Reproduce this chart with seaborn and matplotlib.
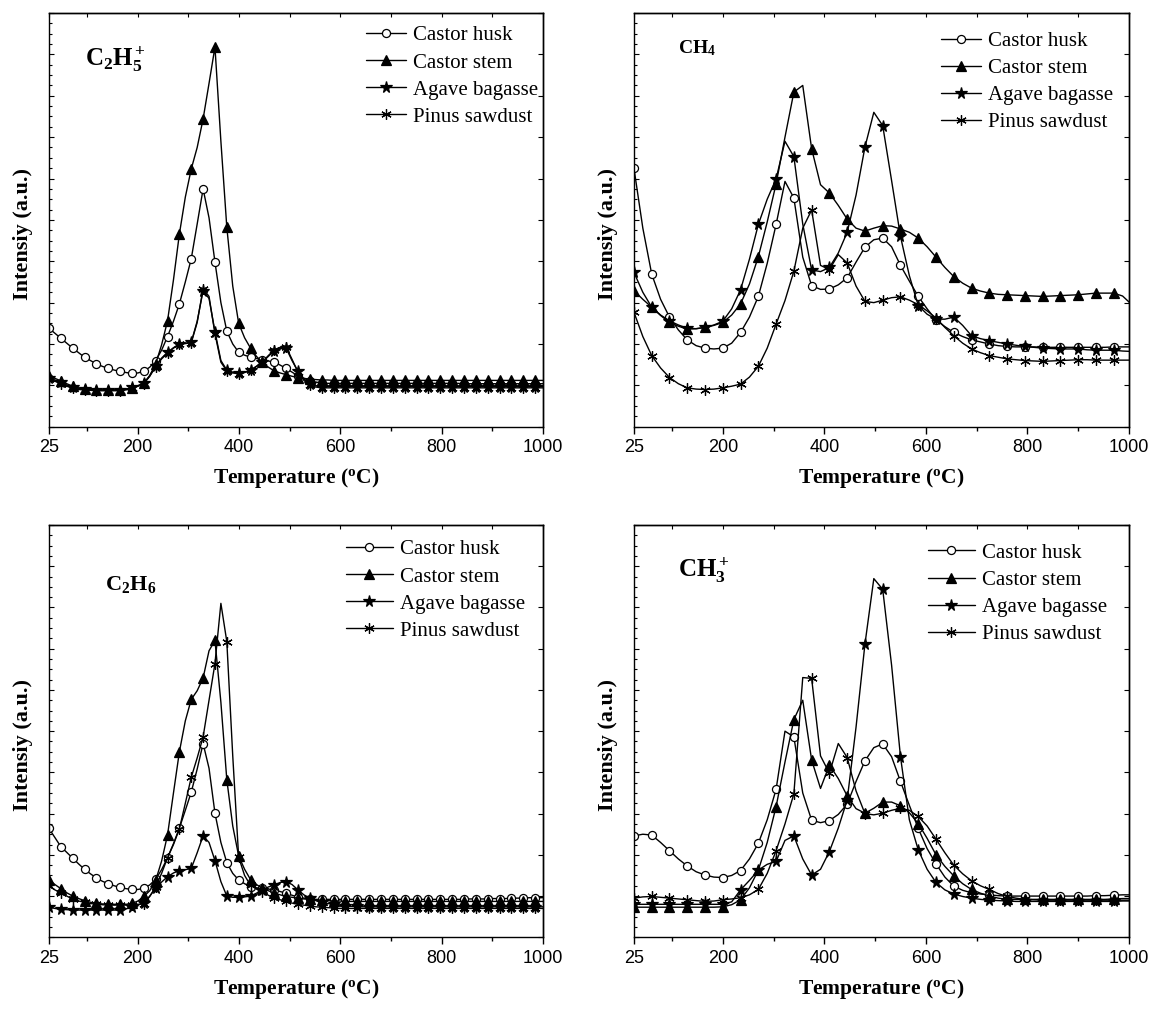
import numpy as np
import matplotlib
matplotlib.use("Agg")
import matplotlib.pyplot as plt
from matplotlib.lines import Line2D
import seaborn as sns

# sampling temperatures (half of the marker spacing in each plot)
temp_fine = np.round(25 + 11.7 * np.arange(85), 1)     # C2H5+ and C2H6 plots
temp_coarse = 25 + 17.5 * np.arange(57)                 # CH4 and CH3+ plots

samples = ["Castor husk", "Castor stem", "Agave bagasse", "Pinus sawdust"]
x_major = [25, 200, 400, 600, 800, 1000]
x_minor = [100, 300, 500, 700, 900]

# intensities (a.u.)
c2h5_husk = [23.8, 22.6, 21.4, 20.2, 19.0, 17.9, 16.8, 16.0, 15.2, 14.6,
             14.1, 13.7, 13.4, 13.1, 12.9, 13.0, 13.4, 14.4, 16.0, 18.5,
             21.8, 25.5, 29.7, 35.0, 40.6, 49.0, 57.5, 50.5, 39.8, 30.0,
             23.1, 20.0, 18.0, 17.3, 16.8, 16.5, 16.2, 15.9, 15.6, 14.9,
             14.1, 13.2, 12.3, 11.7, 11.1, 10.8, 10.6, 10.5, 10.5, 10.5,
             10.5, 10.5, 10.5, 10.5, 10.5, 10.5, 10.5, 10.5, 10.5, 10.5,
             10.5, 10.5, 10.5, 10.5, 10.5, 10.5, 10.5, 10.5, 10.5, 10.5,
             10.4, 10.4, 10.4, 10.4, 10.4, 10.4, 10.4, 10.4, 10.4, 10.4,
             10.4, 10.4, 10.4, 10.4, 10.4]
c2h5_stem = [12.3, 11.7, 11.1, 10.4, 9.8, 9.4, 9.1, 9.0, 8.9, 8.9,
             8.9, 8.9, 8.9, 9.1, 9.4, 9.9, 10.5, 12.3, 15.2, 19.8,
             25.6, 35.5, 46.6, 55.5, 62.3, 67.5, 74.4, 83.0, 91.8, 69.0,
             48.2, 34.0, 25.0, 21.5, 19.0, 17.0, 15.6, 14.4, 13.5, 13.0,
             12.6, 12.2, 11.9, 11.7, 11.5, 11.4, 11.3, 11.3, 11.2, 11.2,
             11.2, 11.2, 11.2, 11.2, 11.2, 11.2, 11.2, 11.2, 11.2, 11.2,
             11.2, 11.2, 11.2, 11.2, 11.2, 11.2, 11.2, 11.2, 11.2, 11.2,
             11.2, 11.2, 11.2, 11.2, 11.2, 11.2, 11.2, 11.2, 11.2, 11.2,
             11.2, 11.2, 11.2, 11.2, 11.2]
c2h5_agave = [11.9, 11.3, 10.7, 10.1, 9.5, 9.3, 9.1, 9.0, 8.9, 8.9,
              8.9, 8.9, 8.9, 9.1, 9.5, 9.9, 10.5, 12.4, 14.8, 16.6,
              18.0, 19.1, 20.0, 20.2, 20.4, 25.5, 32.9, 31.0, 23.0, 16.0,
              13.7, 13.2, 12.9, 13.2, 13.7, 14.6, 15.6, 17.0, 18.4, 18.9,
              19.0, 16.0, 13.4, 11.5, 10.3, 9.9, 9.7, 9.7, 9.7, 9.7,
              9.7, 9.7, 9.7, 9.7, 9.7, 9.7, 9.7, 9.7, 9.7, 9.7,
              9.7, 9.7, 9.7, 9.7, 9.7, 9.7, 9.7, 9.7, 9.7, 9.7,
              9.7, 9.7, 9.7, 9.7, 9.7, 9.7, 9.7, 9.7, 9.7, 9.7,
              9.7, 9.7, 9.7, 9.7, 9.7]
c2h5_pinus = [11.6, 11.0, 10.4, 9.8, 9.3, 9.0, 8.9, 8.8, 8.7, 8.7,
              8.7, 8.7, 8.7, 8.9, 9.3, 9.8, 10.4, 12.2, 14.5, 16.4,
              17.8, 19.0, 19.9, 20.1, 20.3, 25.2, 33.4, 31.5, 22.5, 15.6,
              13.5, 13.0, 12.8, 13.1, 13.6, 14.6, 15.7, 17.2, 18.6, 19.2,
              19.3, 16.3, 13.2, 11.2, 10.0, 9.6, 9.4, 9.4, 9.4, 9.4,
              9.4, 9.4, 9.4, 9.4, 9.4, 9.4, 9.4, 9.4, 9.4, 9.4,
              9.4, 9.4, 9.4, 9.4, 9.4, 9.4, 9.4, 9.4, 9.4, 9.4,
              9.4, 9.4, 9.4, 9.4, 9.4, 9.4, 9.4, 9.4, 9.4, 9.4,
              9.4, 9.4, 9.4, 9.4, 9.4]

ch4_husk = [62.5, 48.0, 36.9, 30.8, 26.5, 23.4, 21.0, 19.6, 19.0, 18.8,
            19.0, 20.2, 22.8, 26.5, 31.5, 39.5, 48.9, 59.3, 55.3, 41.0,
            34.1, 33.2, 33.3, 34.3, 36.0, 39.8, 43.4, 45.2, 45.6, 43.5,
            39.0, 35.2, 31.5, 28.5, 25.8, 24.2, 22.8, 21.8, 21.0, 20.5,
            20.0, 19.6, 19.4, 19.3, 19.3, 19.3, 19.2, 19.2, 19.2, 19.2,
            19.2, 19.2, 19.2, 19.2, 19.3, 19.3, 19.3]
ch4_stem = [32.9, 30.8, 28.9, 26.9, 25.2, 24.3, 23.6, 23.7, 24.0, 24.5,
            25.2, 27.0, 29.7, 34.5, 41.1, 49.5, 58.7, 70.0, 80.9, 82.5,
            67.2, 58.5, 56.5, 53.5, 50.2, 48.0, 47.3, 48.0, 48.6, 48.5,
            47.8, 47.0, 45.6, 43.5, 41.0, 38.5, 36.3, 34.7, 33.5, 32.8,
            32.3, 32.0, 31.9, 31.8, 31.7, 31.6, 31.5, 31.6, 31.7, 31.8,
            31.9, 32.1, 32.3, 32.3, 32.3, 31.6, 29.6]
ch4_agave = [37.3, 32.5, 28.9, 27.0, 25.6, 24.6, 23.8, 23.7, 24.0, 24.6,
             25.5, 28.5, 33.1, 40.5, 48.9, 55.0, 59.9, 69.0, 65.3, 49.0,
             37.9, 37.5, 38.5, 42.0, 47.0, 56.0, 67.6, 76.0, 72.8, 59.5,
             46.0, 36.5, 29.3, 27.2, 26.0, 26.0, 26.5, 24.5, 22.0, 21.3,
             20.8, 20.4, 20.0, 19.7, 19.4, 19.2, 19.0, 18.9, 18.8, 18.8,
             18.8, 18.6, 18.5, 18.5, 18.5, 18.3, 18.2]
ch4_pinus = [27.7, 21.8, 17.2, 14.2, 11.9, 10.4, 9.4, 9.1, 9.0, 9.1,
             9.4, 9.8, 10.3, 12.0, 14.6, 19.0, 24.8, 30.5, 37.6, 48.0,
             52.4, 39.0, 38.0, 41.6, 39.6, 34.0, 30.3, 30.0, 30.6, 31.2,
             31.4, 30.6, 29.5, 28.0, 26.3, 24.0, 22.0, 20.2, 18.8, 17.9,
             17.2, 16.8, 16.4, 16.2, 16.0, 15.9, 15.8, 15.9, 16.0, 16.1,
             16.2, 16.2, 16.1, 16.1, 16.1, 16.1, 16.1]

c2h6_husk = [26.4, 24.2, 22.0, 20.6, 19.2, 17.8, 16.5, 15.4, 14.4, 13.6,
             13.0, 12.5, 12.1, 11.8, 11.6, 11.6, 11.9, 12.7, 14.1, 16.4,
             19.3, 22.7, 26.5, 30.8, 35.2, 40.8, 47.0, 41.0, 30.1, 23.0,
             18.1, 15.5, 13.9, 13.0, 12.3, 12.0, 11.9, 11.7, 11.5, 11.1,
             10.7, 10.2, 9.8, 9.5, 9.3, 9.2, 9.2, 9.2, 9.2, 9.2,
             9.2, 9.2, 9.2, 9.2, 9.2, 9.2, 9.2, 9.2, 9.2, 9.2,
             9.2, 9.2, 9.2, 9.2, 9.2, 9.2, 9.2, 9.2, 9.2, 9.2,
             9.2, 9.3, 9.3, 9.3, 9.3, 9.4, 9.4, 9.4, 9.5, 9.5,
             9.5, 9.6, 9.6, 9.6, 9.7]
c2h6_stem = [14.0, 12.8, 11.8, 10.8, 10.0, 9.4, 8.9, 8.5, 8.2, 8.1,
             8.0, 8.0, 8.0, 8.0, 8.2, 8.8, 9.9, 11.3, 13.8, 18.5,
             24.8, 35.0, 45.0, 52.5, 57.7, 59.8, 62.9, 69.5, 72.0, 57.0,
             38.2, 27.0, 19.7, 16.5, 14.0, 12.8, 11.9, 11.3, 10.7, 10.3,
             9.9, 9.7, 9.5, 9.3, 9.2, 9.1, 9.0, 8.9, 8.8, 8.8,
             8.7, 8.7, 8.7, 8.7, 8.7, 8.7, 8.7, 8.7, 8.7, 8.7,
             8.7, 8.7, 8.7, 8.7, 8.7, 8.7, 8.7, 8.7, 8.7, 8.7,
             8.7, 8.7, 8.7, 8.7, 8.7, 8.7, 8.7, 8.7, 8.7, 8.7,
             8.7, 8.7, 8.7, 8.7, 8.7]
c2h6_agave = [7.3, 7.0, 6.8, 6.7, 6.6, 6.6, 6.6, 6.6, 6.6, 6.6,
              6.6, 6.6, 6.6, 6.9, 7.3, 7.8, 8.4, 10.0, 11.9, 13.4,
              14.7, 15.6, 16.2, 16.4, 16.7, 20.5, 24.6, 23.0, 18.6, 13.5,
              10.0, 9.7, 9.7, 9.8, 10.0, 10.7, 11.5, 12.2, 12.7, 13.3,
              13.5, 12.8, 11.5, 10.3, 9.5, 8.9, 8.5, 8.2, 8.0, 7.8,
              7.6, 7.5, 7.5, 7.4, 7.4, 7.4, 7.4, 7.4, 7.4, 7.4,
              7.4, 7.4, 7.4, 7.4, 7.4, 7.4, 7.4, 7.4, 7.4, 7.4,
              7.4, 7.4, 7.4, 7.4, 7.4, 7.4, 7.4, 7.4, 7.4, 7.4,
              7.4, 7.4, 7.4, 7.4, 7.4]
c2h6_pinus = [12.5, 11.5, 10.8, 10.0, 9.3, 8.8, 8.5, 8.2, 8.0, 7.9,
              7.8, 7.8, 7.8, 7.8, 7.9, 8.0, 8.1, 9.9, 12.3, 15.5,
              19.3, 22.5, 26.3, 32.5, 38.8, 43.5, 48.6, 57.5, 66.4, 81.0,
              71.7, 44.0, 19.4, 15.0, 12.6, 11.7, 11.0, 10.2, 9.5, 9.1,
              8.7, 8.3, 8.0, 7.8, 7.6, 7.4, 7.3, 7.2, 7.1, 7.0,
              7.0, 7.0, 7.0, 7.0, 7.0, 7.0, 7.0, 7.0, 7.0, 7.0,
              7.0, 7.0, 7.0, 7.0, 7.0, 7.0, 7.0, 7.0, 7.0, 7.0,
              7.0, 7.0, 7.0, 7.0, 7.0, 7.0, 7.0, 7.0, 7.0, 7.0,
              7.0, 7.0, 7.0, 7.0, 7.0]

ch3_husk = [24.6, 25.0, 24.8, 23.0, 21.0, 19.0, 17.3, 15.9, 15.1, 14.6,
            14.5, 15.0, 16.2, 19.0, 22.8, 28.5, 35.9, 50.0, 48.6, 35.0,
            28.4, 27.8, 28.3, 29.8, 32.3, 37.8, 42.8, 46.0, 46.9, 43.8,
            37.8, 32.0, 26.4, 21.5, 17.8, 14.6, 12.4, 11.4, 10.8, 10.5,
            10.3, 10.1, 10.0, 10.0, 10.0, 10.0, 10.0, 10.0, 10.0, 10.0,
            10.0, 10.0, 10.1, 10.1, 10.2, 10.3, 10.3]
ch3_stem = [7.3, 7.3, 7.3, 7.3, 7.3, 7.3, 7.3, 7.3, 7.3, 7.3,
            7.4, 7.9, 9.1, 12.0, 16.3, 23.0, 31.7, 42.5, 52.8, 57.5,
            43.0, 36.1, 41.8, 38.5, 34.3, 31.2, 30.1, 31.3, 32.8, 32.8,
            31.9, 30.2, 27.6, 24.0, 20.0, 17.2, 14.9, 13.0, 11.6, 10.7,
            10.0, 9.5, 9.2, 9.2, 9.2, 9.2, 9.2, 9.2, 9.2, 9.2,
            9.2, 9.2, 9.2, 9.2, 9.3, 9.4, 9.4]
ch3_agave = [8.0, 8.0, 8.0, 8.0, 8.0, 8.0, 8.0, 8.0, 8.0, 8.0,
             8.0, 8.6, 11.5, 13.8, 16.3, 17.7, 18.4, 23.5, 24.6, 19.0,
             15.1, 16.5, 20.8, 26.5, 33.3, 51.0, 71.1, 87.0, 84.4, 66.0,
             43.8, 28.5, 21.2, 16.5, 13.3, 11.5, 10.5, 9.9, 9.5, 9.2,
             9.0, 8.9, 8.8, 8.7, 8.7, 8.7, 8.7, 8.7, 8.7, 8.7,
             8.7, 8.7, 8.7, 8.7, 8.7, 8.8, 8.8]
ch3_pinus = [9.5, 9.8, 9.9, 9.7, 9.5, 9.3, 9.1, 8.9, 8.7, 8.8,
             9.1, 9.3, 9.6, 10.3, 11.6, 15.5, 21.0, 27.5, 34.8, 63.0,
             62.8, 44.0, 39.8, 47.0, 43.6, 35.5, 30.0, 29.7, 30.1, 30.8,
             31.3, 30.8, 29.3, 27.0, 23.8, 20.5, 17.5, 15.4, 13.7, 12.5,
             11.6, 10.6, 9.9, 9.5, 9.2, 9.1, 9.0, 9.0, 9.0, 9.0,
             9.0, 9.0, 9.0, 9.0, 9.0, 9.0, 9.0]

sns.set_style("ticks")
plt.rcParams["font.family"] = ["Liberation Serif", "DejaVu Serif"]
plt.rcParams["mathtext.fontset"] = "custom"
plt.rcParams["mathtext.rm"] = "Liberation Serif"
plt.rcParams["mathtext.bf"] = "Liberation Serif:bold"
plt.rcParams["mathtext.it"] = "Liberation Serif:italic"
for key in ["axes.edgecolor", "axes.labelcolor", "text.color", "xtick.color", "ytick.color"]:
    plt.rcParams[key] = "black"
plt.rcParams["axes.linewidth"] = 1.0

marker_styles = [
    dict(marker="o", markersize=5.8, markerfacecolor="white"),
    dict(marker="^", markersize=7, markerfacecolor="black"),
    dict(marker="*", markersize=8.5, markerfacecolor="black"),
    dict(marker=(6, 2, 0), markersize=7.5, markerfacecolor="black"),
]


def draw_panel(ax, temp, series, species, species_pos, species_size, legend_pos, handle_len):
    last = len(temp) - 2
    for values, style in zip(series, marker_styles):
        sns.lineplot(x=temp, y=values, ax=ax, color="black", linewidth=1.0,
                     markevery=slice(0, last, 2), markeredgecolor="black",
                     markeredgewidth=0.9, legend=False, **style)

    ax.set_xlim(25, 1000)
    ax.set_ylim(0, 100)
    ax.set_xticks(x_major)
    ax.set_xticks(x_minor, minor=True)
    ax.set_yticks(np.arange(0, 101, 10))
    ax.set_yticks(np.arange(0, 101, 2.5), minor=True)
    ax.tick_params(axis="x", which="both", direction="out", labelsize=13, pad=4, width=1.0)
    ax.tick_params(axis="x", which="major", length=5)
    ax.tick_params(axis="x", which="minor", length=3)
    ax.tick_params(axis="y", which="both", direction="in", labelleft=False, width=0.8)
    ax.tick_params(axis="y", which="major", length=3.5)
    ax.tick_params(axis="y", which="minor", length=2.5)
    for lab in ax.get_xticklabels():
        lab.set_fontfamily("Liberation Sans")

    top = ax.secondary_xaxis("top")
    top.set_xticks(x_major)
    top.set_xticks(x_minor, minor=True)
    top.tick_params(which="both", direction="in", labeltop=False, length=3, width=0.8)
    right = ax.secondary_yaxis("right")
    right.set_yticks(np.arange(0, 101, 10))
    right.tick_params(direction="in", labelright=False, length=3.5, width=0.8)

    ax.set_xlabel(r"Temperature ($^{\mathbf{o}}$C)", fontsize=15.5, fontweight="bold", va="center")
    ax.xaxis.set_label_coords(0.5, -0.125)
    ax.set_ylabel("Intensiy (a.u.)", fontsize=16, fontweight="bold", va="center")
    ax.yaxis.set_label_coords(-0.053, 0.466)

    ax.text(species_pos[0], species_pos[1], species, transform=ax.transAxes,
            fontsize=species_size, ha="left", va="baseline")

    handles = [Line2D([], [], color="black", linewidth=1.0, markeredgecolor="black",
                      markeredgewidth=0.9, **style) for style in marker_styles]
    ax.legend(handles, samples, loc="upper left", bbox_to_anchor=legend_pos,
              frameon=False, fontsize=15, handlelength=handle_len, handletextpad=0.35,
              labelspacing=0.36, borderpad=0, borderaxespad=0)


fig = plt.figure(figsize=(11.63, 10.11), dpi=100)
ax_tl = fig.add_axes([0.0421, 0.5779, 0.4248, 0.4092])
ax_tr = fig.add_axes([0.5451, 0.5779, 0.4256, 0.4092])
ax_bl = fig.add_axes([0.0421, 0.0729, 0.4248, 0.4078])
ax_br = fig.add_axes([0.5451, 0.0729, 0.4256, 0.4078])

draw_panel(ax_tl, temp_fine, [c2h5_husk, c2h5_stem, c2h5_agave, c2h5_pinus],
           r"$\mathbf{C_2H_5^+}$", (0.073, 0.872), 18, (0.642, 0.969), 1.92)
draw_panel(ax_tr, temp_coarse, [ch4_husk, ch4_stem, ch4_agave, ch4_pinus],
           r"$\mathbf{CH_4}$", (0.089, 0.903), 14, (0.620, 0.956), 1.92)
draw_panel(ax_bl, temp_fine, [c2h6_husk, c2h6_stem, c2h6_agave, c2h6_pinus],
           r"$\mathbf{C_2H_6}$", (0.113, 0.842), 16, (0.601, 0.964), 2.25)
draw_panel(ax_br, temp_coarse, [ch3_husk, ch3_stem, ch3_agave, ch3_pinus],
           r"$\mathbf{CH_3^+}$", (0.089, 0.874), 18, (0.594, 0.956), 2.25)

fig.savefig("out.png", dpi=100)
